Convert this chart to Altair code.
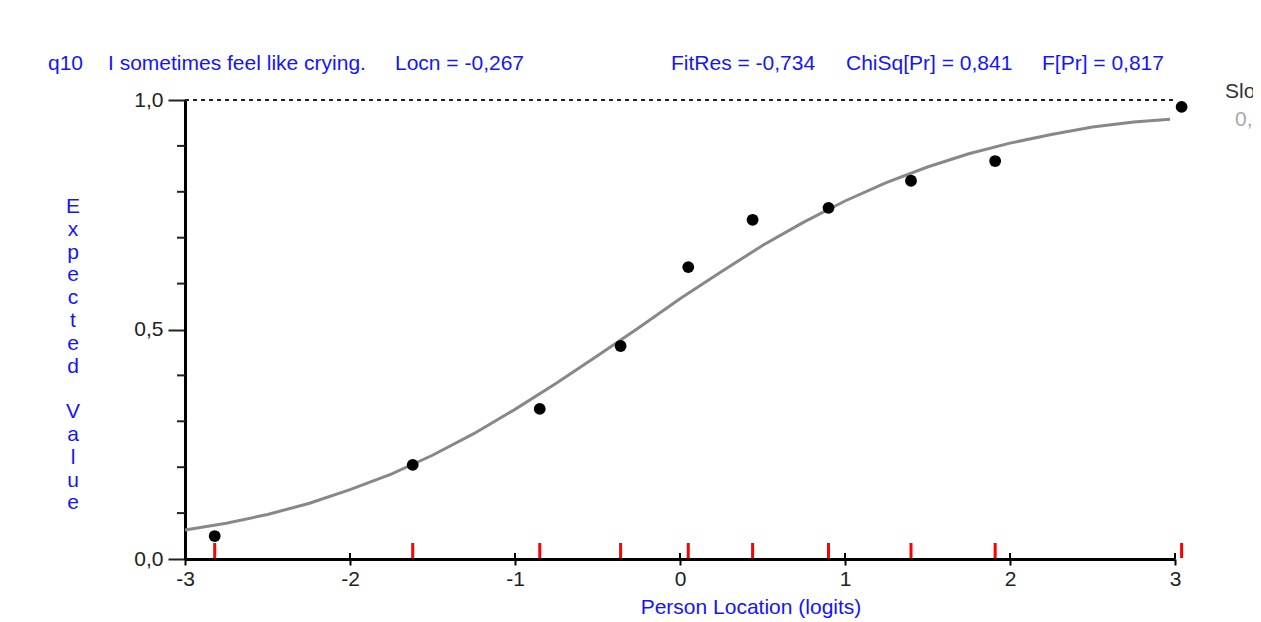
import altair as alt
import pandas as pd

# ---- data ----
class_x = [-2.82, -1.62, -0.85, -0.36, 0.05, 0.44, 0.90, 1.40, 1.91, 3.04]
class_y = [0.050, 0.205, 0.327, 0.464, 0.636, 0.739, 0.765, 0.824, 0.867, 0.985]

curve_x = [-3.0, -2.75, -2.5, -2.25, -2.0, -1.75, -1.5, -1.25, -1.0, -0.75, -0.5, -0.25,
           0.0, 0.25, 0.5, 0.75, 1.0, 1.25, 1.5, 1.75, 2.0, 2.25, 2.5, 2.75, 2.97]
curve_y = [0.063, 0.078, 0.097, 0.121, 0.151, 0.185, 0.226, 0.273, 0.326, 0.383, 0.443, 0.504,
           0.567, 0.626, 0.683, 0.734, 0.780, 0.820, 0.854, 0.883, 0.906, 0.925, 0.941, 0.952, 0.958]

x_ticks = [-3, -2, -1, 0, 1, 2, 3]
y_major = [0.0, 0.5, 1.0]
y_minor = [0.1, 0.2, 0.3, 0.4, 0.6, 0.7, 0.8, 0.9]

header = [
    ("q10", -137),
    ("I sometimes feel like crying.", -77),
    ("Locn = -0,267", 210),
    ("FitRes = -0,734", 486),
    ("ChiSq[Pr] = 0,841", 661),
    ("F[Pr] = 0,817", 857),
]
y_title_1 = list("Expected")
y_title_2 = list("Value")
x_title = "Person Location (logits)"

W, H = 990, 459
FONT = "Liberation Sans"
BLUE = "#1414ff"
FS = 21
LH = 22.8

xscale = alt.Scale(domain=[-3, 3], nice=False, zero=False)
yscale = alt.Scale(domain=[0, 1], nice=False, zero=False)

pts = pd.DataFrame({"x": class_x, "y": class_y})
crv = pd.DataFrame({"x": curve_x, "y": curve_y})

curve = alt.Chart(crv).mark_line(color="#888888", strokeWidth=3).encode(
    x=alt.X("x:Q", scale=xscale,
            axis=alt.Axis(values=x_ticks, title=None, labelExpr="'' + datum.value",
                          tickSize=6, tickWidth=2, tickColor="#000", domainColor="#000",
                          domainWidth=3, labelFont=FONT, labelFontSize=FS, labelColor="#222",
                          labelPadding=3, grid=False, labelFlush=False)),
    y=alt.Y("y:Q", scale=yscale,
            axis=alt.Axis(values=y_major, title=None,
                          labelExpr="replace(format(datum.value, '.1f'), '.', ',')",
                          tickSize=17, tickWidth=2, tickColor="#222", domainColor="#000",
                          domainWidth=3, labelFont=FONT, labelFontSize=FS, labelColor="#222",
                          labelPadding=5, grid=False, labelFlush=False)),
)

dashed = alt.Chart(pd.DataFrame({"y": [1.0]})).mark_rule(
    color="#222222", strokeWidth=2, strokeDash=[4, 4]).encode(
    y=alt.Y("y:Q", scale=yscale), x=alt.value(0), x2=alt.value(W))

minor = alt.Chart(pd.DataFrame({"y": y_minor})).mark_rule(
    color="#222222", strokeWidth=2).encode(
    y=alt.Y("y:Q", scale=yscale), x=alt.value(-8), x2=alt.value(0))

xup = alt.Chart(pd.DataFrame({"x": x_ticks})).mark_rule(
    color="#000000", strokeWidth=2).encode(
    x=alt.X("x:Q", scale=xscale), y=alt.value(H - 6), y2=alt.value(H))

red = alt.Chart(pts).mark_rule(color="#ff0000", strokeWidth=3).encode(
    x=alt.X("x:Q", scale=xscale), y=alt.value(H - 16), y2=alt.value(H - 1))

dots = alt.Chart(pts).mark_circle(color="#000000", opacity=1, size=140).encode(
    x=alt.X("x:Q", scale=xscale), y=alt.Y("y:Q", scale=yscale))

layers = [curve, dashed, minor, xup, red, dots]

for txt, px in header:
    layers.append(alt.Chart(pd.DataFrame({"t": [txt]})).mark_text(
        align="left", baseline="middle", font=FONT, fontSize=FS, color=BLUE).encode(
        text="t:N", x=alt.value(px), y=alt.value(-36)))

layers.append(alt.Chart(pd.DataFrame({"t": [0]})).mark_text(
    align="center", baseline="top", font=FONT, fontSize=FS, color=BLUE,
    lineHeight=LH, text=y_title_1).encode(x=alt.value(-112), y=alt.value(96)))
layers.append(alt.Chart(pd.DataFrame({"t": [0]})).mark_text(
    align="center", baseline="top", font=FONT, fontSize=FS, color=BLUE,
    lineHeight=LH, text=y_title_2).encode(x=alt.value(-112), y=alt.value(96 + 9 * LH)))

layers.append(alt.Chart(pd.DataFrame({"t": [x_title]})).mark_text(
    align="center", baseline="middle", font=FONT, fontSize=FS, color=BLUE).encode(
    text="t:N", x=alt.value(566), y=alt.value(H + 49)))

layers.append(alt.Chart(pd.DataFrame({"t": ["Slope"]})).mark_text(
    align="left", baseline="middle", font=FONT, fontSize=FS, color="#333333").encode(
    text="t:N", x=alt.value(1040), y=alt.value(-8)))
layers.append(alt.Chart(pd.DataFrame({"t": ["0,25"]})).mark_text(
    align="left", baseline="middle", font=FONT, fontSize=FS, color="#a8a8a8").encode(
    text="t:N", x=alt.value(1050), y=alt.value(20)))

chart = alt.layer(*layers).properties(
    width=W, height=H,
    autosize=alt.AutoSizeParams(type="none"),
    padding={"left": 177, "top": 92, "right": 78, "bottom": 62},
).configure(background="#ffffff", view=alt.ViewConfig(strokeWidth=0))

chart.save("out.html", embed_options={"renderer": "svg", "actions": False})
